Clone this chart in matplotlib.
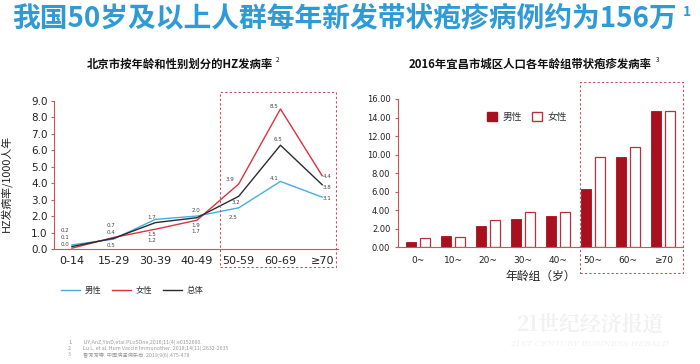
import matplotlib
matplotlib.use("Agg")
import matplotlib.pyplot as plt
from matplotlib.patches import Rectangle, Patch
import numpy as np

plt.rcParams['font.family'] = ['Noto Sans CJK SC', 'DejaVu Sans']

# ---------------- data ----------------
title_main = "我国50岁及以上人群每年新发带状疱疹病例约为156万"
left_title = "北京市按年龄和性别划分的HZ发病率"
right_title = "2016年宜昌市城区人口各年龄组带状疱疹发病率"

age_groups_bj = ["0-14", "15-29", "30-39", "40-49", "50-59", "60-69", "≥70"]
male_bj = [0.25, 0.6, 1.8, 2.0, 2.5, 4.1, 3.15]
female_bj = [0.05, 0.7, 1.2, 1.75, 3.95, 8.5, 4.45]
total_bj = [0.15, 0.65, 1.6, 1.9, 3.2, 6.3, 3.9]
series_names_bj = ["男性", "女性", "总体"]

# printed value labels (text, category offset, y) as shown on the chart
bj_labels = [("0.2", -0.16, 1.1), ("0.1", -0.16, 0.7), ("0.0", -0.16, 0.29),
             ("0.7", 0.94, 1.4), ("0.4", 0.94, 1.0), ("0.5", 0.94, 0.23),
             ("1.7", 1.91, 1.93), ("1.5", 1.91, 0.91), ("1.2", 1.91, 0.53),
             ("2.0", 2.97, 2.34), ("1.9", 2.97, 1.43), ("1.7", 2.97, 1.04),
             ("3.9", 3.79, 4.23), ("3.2", 3.93, 2.85), ("2.5", 3.87, 1.9),
             ("8.5", 4.84, 8.62), ("6.5", 4.95, 6.63), ("4.1", 4.84, 4.29),
             ("4.4", 6.12, 4.39), ("3.8", 6.12, 3.76), ("3.1", 6.12, 3.09)]

age_groups_yc = ["0~", "10~", "20~", "30~", "40~", "50~", "60~", "≥70"]
male_yc = [0.6, 1.2, 2.3, 3.05, 3.35, 6.3, 9.75, 14.75]
female_yc = [0.97, 1.15, 2.9, 3.77, 3.77, 9.75, 10.85, 14.75]
series_names_yc = ["男性", "女性"]

footnotes = ["LiY,AnZ,YinD,etal.PLoSOne,2016;11(4):e0152660.",
             "Lu L, et al. Hum Vaccin Immunother. 2018;14(11):2632-2635",
             "鲁芳芳等. 中国病毒病杂志. 2019;9(6):475-478"]

# ---------------- figure ----------------
W, H = 700, 364
fig = plt.figure(figsize=(W / 100, H / 100), dpi=100)
fig.patch.set_facecolor('white')

def fx(px):
    return px / W

def fy(py):
    return 1 - py / H

blue_title = '#2e9bd6'
fig.text(fx(12), fy(18), title_main, color=blue_title, fontsize=20,
         fontweight='bold', ha='left', va='center')
fig.text(fx(683), fy(12), "1", color=blue_title, fontsize=10,
         fontweight='bold', ha='left', va='center')

spine_red = '#d8505e'
c_male = '#45aee0'
c_female = '#d8343f'
c_total = '#2b2b2b'

# ---------------- left chart ----------------
ax1 = fig.add_axes([fx(54), fy(249), fx(338) - fx(54), fy(100.7) - fy(249)])
x = np.arange(len(age_groups_bj))
ax1.plot(x, male_bj, color=c_male, lw=1.0, label=series_names_bj[0])
ax1.plot(x, female_bj, color=c_female, lw=1.0, label=series_names_bj[1])
ax1.plot(x, total_bj, color=c_total, lw=1.0, label=series_names_bj[2])
for txt, dx, yy in bj_labels:
    ax1.text(dx, yy, txt, fontsize=4, color='#444444', ha='center', va='center',
             family='DejaVu Sans')
ax1.set_xlim(-0.43, 6.38)
ax1.set_ylim(0, 9)
ax1.set_yticks(np.arange(0, 9.1, 1.0))
ax1.set_yticklabels([f"{v:.1f}" for v in np.arange(0, 9.1, 1.0)],
                    family='DejaVu Sans', fontsize=7.5, color='#222222')
ax1.set_xticks(x)
ax1.set_xticklabels(age_groups_bj, family='DejaVu Sans', fontsize=8, color='#222222')
ax1.tick_params(axis='x', length=0, pad=5)
ax1.tick_params(axis='y', length=2.5, color=spine_red, pad=2)
for s in ['top', 'right']:
    ax1.spines[s].set_visible(False)
for s in ['left', 'bottom']:
    ax1.spines[s].set_color(spine_red)
    ax1.spines[s].set_linewidth(0.8)
ax1.set_ylabel("HZ发病率/1000人年", fontsize=7.8, color='#222222')
ax1.yaxis.set_label_coords(-0.148, 0.44)
ax1.legend(loc='center', bbox_to_anchor=(0.275, -0.281), ncol=3, frameon=False,
           fontsize=6, handlelength=2.3, columnspacing=1.2, handletextpad=0.6,
           labelcolor='#333333')
fig.text(fx(180), fy(64), left_title, fontsize=8.2, fontweight='bold',
         ha='center', va='center', color='#111111')
fig.text(fx(276), fy(60), "2", fontsize=4.5, ha='left', va='center', color='#111111')

# ---------------- right chart ----------------
ax2 = fig.add_axes([fx(398), fy(247.3), fx(683) - fx(398), fy(99) - fy(247.3)])
x2 = np.arange(len(age_groups_yc))
bw = 0.28
c_bar = '#a8101e'
ax2.bar(x2 - 0.19, male_yc, width=bw, color=c_bar, edgecolor=c_bar, lw=0.6,
        label=series_names_yc[0])
ax2.bar(x2 + 0.2, female_yc, width=bw, color='white', edgecolor='#b8303c', lw=0.9,
        label=series_names_yc[1])
ax2.set_xlim(-0.57, 7.57)
ax2.set_ylim(0, 16)
yt = np.arange(0, 16.1, 2)
ax2.set_yticks(yt)
ax2.set_yticklabels([f"{v:.2f}" for v in yt], family='DejaVu Sans', fontsize=6,
                    color='#222222')
ax2.set_xticks(x2)
ax2.set_xticklabels(age_groups_yc, family='DejaVu Sans', fontsize=6.5, color='#222222')
ax2.tick_params(axis='x', length=0, pad=6)
ax2.tick_params(axis='y', length=2.5, color=spine_red, pad=3)
for s in ['top', 'right']:
    ax2.spines[s].set_visible(False)
for s in ['left', 'bottom']:
    ax2.spines[s].set_color(spine_red)
    ax2.spines[s].set_linewidth(0.8)
ax2.set_xlabel("年龄组（岁）", fontsize=8.5, color='#222222', labelpad=4)
handles = [Patch(facecolor=c_bar, edgecolor=c_bar), Patch(facecolor='white', edgecolor='#b8303c')]
ax2.legend(handles, series_names_yc, loc='center', bbox_to_anchor=(0.453, 0.88), ncol=2,
           frameon=False, fontsize=7, handlelength=1.0, handleheight=1.0,
           columnspacing=1.0, handletextpad=0.6, labelcolor='#333333')
fig.text(fx(530), fy(64), right_title, fontsize=8.2, fontweight='bold',
         ha='center', va='center', color='#111111')
fig.text(fx(656), fy(60), "3", fontsize=4.5, ha='left', va='center', color='#111111')

# ---------------- dashed highlight boxes ----------------
box_c = '#c8505e'
fig.add_artist(Rectangle((fx(220), fy(266.7)), fx(336) - fx(220), fy(91.7) - fy(266.7),
                         transform=fig.transFigure, fill=False, edgecolor=box_c,
                         lw=0.8, linestyle=(0, (2, 2))))
fig.add_artist(Rectangle((fx(580), fy(273)), fx(683) - fx(580), fy(81.7) - fy(273),
                         transform=fig.transFigure, fill=False, edgecolor=box_c,
                         lw=0.8, linestyle=(0, (2, 2))))

# ---------------- footnotes ----------------
for i, fn in enumerate(footnotes):
    yy = fy(342.7 + 6 * i)
    fig.text(fx(68), yy, f"{i + 1}.", fontsize=3.8, color='#9a9a9a', ha='left', va='center')
    fig.text(fx(83), yy, fn, fontsize=3.8, color='#9a9a9a', ha='left', va='center')

# ---------------- watermark ----------------
fig.text(fx(590), fy(325), "21世纪经济报道", fontsize=15, color='#f1f1f1',
         ha='center', va='center', fontweight='bold', family=['Noto Serif CJK SC', 'Noto Sans CJK SC'])
fig.text(fx(590), fy(344), "21ST CENTURY BUSINESS HERALD", fontsize=6, color='#f1f1f1',
         ha='center', va='center', style='italic', family='DejaVu Serif')

fig.savefig("out.png", dpi=100, facecolor='white')
